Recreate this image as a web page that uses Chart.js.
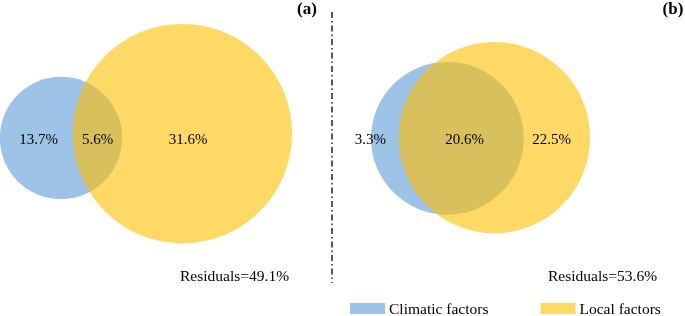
<!DOCTYPE html>
<html>
<head>
<meta charset="utf-8">
<script src="https://cdn.jsdelivr.net/npm/chart.js@4/dist/chart.umd.min.js"></script>
<style>
  html, body { margin: 0; padding: 0; background: #ffffff; }
  #wrap { width: 685px; height: 316px; }
</style>
</head>
<body>
<div id="wrap"><canvas id="c" width="685" height="316"></canvas></div>
<script>
// ---- data (panel a, panel b) ----
const panelTags = ['(a)', '(b)'];
const seriesNames = ['Climatic factors', 'Local factors'];
const climaticOnly = ['13.7%', '3.3%'];
const sharedPart = ['5.6%', '20.6%'];
const localOnly = ['31.6%', '22.5%'];
const residuals = ['Residuals=49.1%', 'Residuals=53.6%'];

// circle geometry in chart data units (centre x, centre y, radius)
const climaticCx = [61, 447.4];
const climaticCy = [138, 138.3];
const climaticR = [61.2, 76.4];
const localCx = [182.4, 494.4];
const localCy = [133.7, 137.7];
const localR = [109.7, 95.7];

// label anchor values (data units)
const climaticLabelX = [38.5, 370.3];
const sharedLabelX = [97.5, 464.7];
const localLabelX = [188, 551.5];
const areaLabelY = [140.5, 140.5];
const residualX = [180, 548];
const residualY = [281, 281];
const tagX = [307, 673];
const tagY = [10, 10];
const dividerX = 332;
const dividerY = [12, 283];

const blue = 'rgba(91,155,213,0.6)';
const yellow = 'rgba(255,192,0,0.6)';

function circles(cx, cy, r) {
  return cx.map((x, i) => ({ x: x, y: cy[i], size: r[i] }));
}

function radiusFromScale(ctx) {
  const raw = ctx.raw;
  if (!raw) return 0;
  const s = ctx.chart.scales.x;
  if (!s) return 0;
  const v = Math.abs(s.getPixelForValue(raw.x + raw.size) - s.getPixelForValue(raw.x));
  return isFinite(v) ? v : 0;
}

const SERIF = '"Liberation Serif", "Times New Roman", serif';

const annotate = {
  id: 'annotate',
  afterDatasetsDraw(chart) {
    const ctx = chart.ctx;
    const xs = chart.scales.x, ys = chart.scales.y;
    const px = v => xs.getPixelForValue(v);
    const py = v => ys.getPixelForValue(v);
    ctx.save();
    ctx.fillStyle = '#000';
    // area labels
    ctx.font = '15px ' + SERIF;
    ctx.textAlign = 'center';
    ctx.textBaseline = 'middle';
    for (let i = 0; i < panelTags.length; i++) {
      ctx.fillText(climaticOnly[i], px(climaticLabelX[i]), py(areaLabelY[i]));
      ctx.fillText(sharedPart[i], px(sharedLabelX[i]), py(areaLabelY[i]));
      ctx.fillText(localOnly[i], px(localLabelX[i]), py(areaLabelY[i]));
    }
    // residuals
    ctx.font = '15.5px ' + SERIF;
    ctx.textAlign = 'left';
    ctx.textBaseline = 'alphabetic';
    for (let i = 0; i < residuals.length; i++) {
      ctx.fillText(residuals[i], px(residualX[i]), py(residualY[i]));
    }
    // panel tags
    ctx.font = 'bold 17px ' + SERIF;
    ctx.textAlign = 'center';
    ctx.textBaseline = 'middle';
    for (let i = 0; i < panelTags.length; i++) {
      ctx.fillText(panelTags[i], px(tagX[i]), py(tagY[i]));
    }
    // dash-dot divider
    ctx.strokeStyle = '#222';
    ctx.lineWidth = 1.5;
    ctx.setLineDash([6, 3, 1.5, 3]);
    ctx.beginPath();
    ctx.moveTo(px(dividerX), py(dividerY[0]));
    ctx.lineTo(px(dividerX), py(dividerY[1]));
    ctx.stroke();
    ctx.setLineDash([]);
    // legend
    ctx.font = '15.5px ' + SERIF;
    ctx.textAlign = 'left';
    ctx.textBaseline = 'alphabetic';
    const legendStart = [350, 540.5];
    chart.data.datasets.forEach((ds, i) => {
      const x0 = px(legendStart[i]);
      ctx.fillStyle = ds.pointBackgroundColor;
      ctx.fillRect(x0, py(303), 35, 11);
      ctx.fillStyle = '#000';
      ctx.fillText(ds.label, x0 + 39, py(313.5));
    });
    ctx.restore();
  }
};

new Chart(document.getElementById('c'), {
  type: 'scatter',
  data: {
    datasets: [
      {
        label: seriesNames[0],
        data: circles(climaticCx, climaticCy, climaticR),
        pointBackgroundColor: blue,
        backgroundColor: blue,
        pointBorderWidth: 0,
        pointRadius: radiusFromScale,
        pointHoverRadius: radiusFromScale,
        showLine: false,
        clip: false,
        order: 1
      },
      {
        label: seriesNames[1],
        data: circles(localCx, localCy, localR),
        pointBackgroundColor: yellow,
        backgroundColor: yellow,
        pointBorderWidth: 0,
        pointRadius: radiusFromScale,
        pointHoverRadius: radiusFromScale,
        showLine: false,
        clip: false,
        order: 0
      }
    ]
  },
  options: {
    responsive: false,
    animation: false,
    devicePixelRatio: 1,
    events: [],
    layout: { padding: 0 },
    plugins: { legend: { display: false }, tooltip: { enabled: false } },
    scales: {
      x: { type: 'linear', min: 0, max: 685, display: false },
      y: { type: 'linear', min: 0, max: 316, reverse: true, display: false }
    }
  },
  plugins: [annotate]
});
</script>
</body>
</html>
